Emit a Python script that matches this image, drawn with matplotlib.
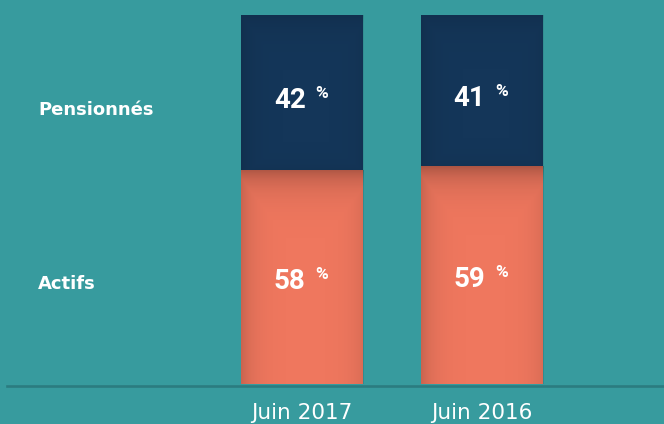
import matplotlib
matplotlib.use("Agg")
import matplotlib.pyplot as plt
import numpy as np

categories = ["Juin 2017", "Juin 2016"]
series_names = ["Actifs", "Pensionnés"]
actifs = [58, 59]
pensionnes = [42, 41]

BG = "#379B9E"
NAVY = "#143659"
ORANGE = "#EF775E"
LINE = "#2B7C80"

plt.rcParams['font.family'] = ['DejaVu Sans']

fig = plt.figure(figsize=(6.64, 4.24), dpi=100, facecolor=BG)
ax = fig.add_axes([0, 40/424, 1, 384/424])
ax.set_facecolor(BG)

x = np.arange(len(categories))
w = 0.678
b1 = ax.bar(x, actifs, width=w, color=ORANGE, zorder=2)
b2 = ax.bar(x, pensionnes, width=w, bottom=actifs, color=NAVY, zorder=2)

# subtle inner shading (vignette) on each segment
px_x = 1/180.0    # data units per pixel in x
px_y = 100/369.0  # data units per pixel in y
def shade(patch, top_strength, side_strength, bottom_strength):
    x0, y0 = patch.get_x(), patch.get_y()
    ww, hh = patch.get_width(), patch.get_height()
    nx, ny = 120, 200
    xs = np.linspace(0, ww / px_x, nx)
    ys = np.linspace(0, hh / px_y, ny)
    X, Y = np.meshgrid(xs, ys)
    dl = X
    dr = xs[-1] - X
    dt = ys[-1] - Y
    db = Y
    a = np.maximum.reduce([
        side_strength * np.exp(-dl / 12.0),
        side_strength * 0.6 * np.exp(-dr / 12.0),
        top_strength * np.exp(-dt / 16.0),
        bottom_strength * np.exp(-db / 10.0),
    ])
    img = np.zeros((ny, nx, 4))
    img[..., 3] = a
    im = ax.imshow(img, extent=(x0, x0 + ww, y0, y0 + hh), origin="lower",
                   aspect="auto", zorder=2.5, interpolation="bilinear")
    im.set_clip_path(patch)

for p in b1:
    shade(p, 0.28, 0.16, 0.0)
for p in b2:
    shade(p, 0.12, 0.12, 0.06)
ax.set_xlim(-302/180, (664-302)/180)
ax.set_ylim(0, 384/369*100)

for s in ax.spines.values():
    s.set_visible(False)
ax.axhline(-0.5, xmin=7/664, xmax=1, color=LINE, lw=1.9, zorder=3, clip_on=False)

ax.set_yticks([])
ax.set_xticks(x)
ax.set_xticklabels(categories, color="white", fontsize=15.5)
ax.tick_params(axis='x', length=0, pad=14)

for i in range(len(categories)):
    for val, mid, off in [(actifs[i], actifs[i]/2, -3.2),
                          (pensionnes[i], actifs[i] + pensionnes[i]/2, -4.1)]:
        yb = mid + off
        ax.text(x[i] + 0.02, yb, f"{val}", ha="right", va="baseline", color="white",
                fontsize=20, fontweight="bold", family=['Roboto', 'DejaVu Sans'], zorder=4)
        ax.text(x[i] + 0.075, yb + 2.7, "%", ha="left", va="baseline", color="white",
                fontsize=12.5, fontweight="bold", family=['Roboto', 'DejaVu Sans'], zorder=4)

ax.text(38/664, 25.7, series_names[0], transform=ax.get_yaxis_transform(),
        ha="left", va="baseline", color="white", fontsize=13, fontweight="bold")
ax.text(38/664, 72.9, series_names[1], transform=ax.get_yaxis_transform(),
        ha="left", va="baseline", color="white", fontsize=13, fontweight="bold")

fig.savefig("out.png", dpi=100, facecolor=BG)
